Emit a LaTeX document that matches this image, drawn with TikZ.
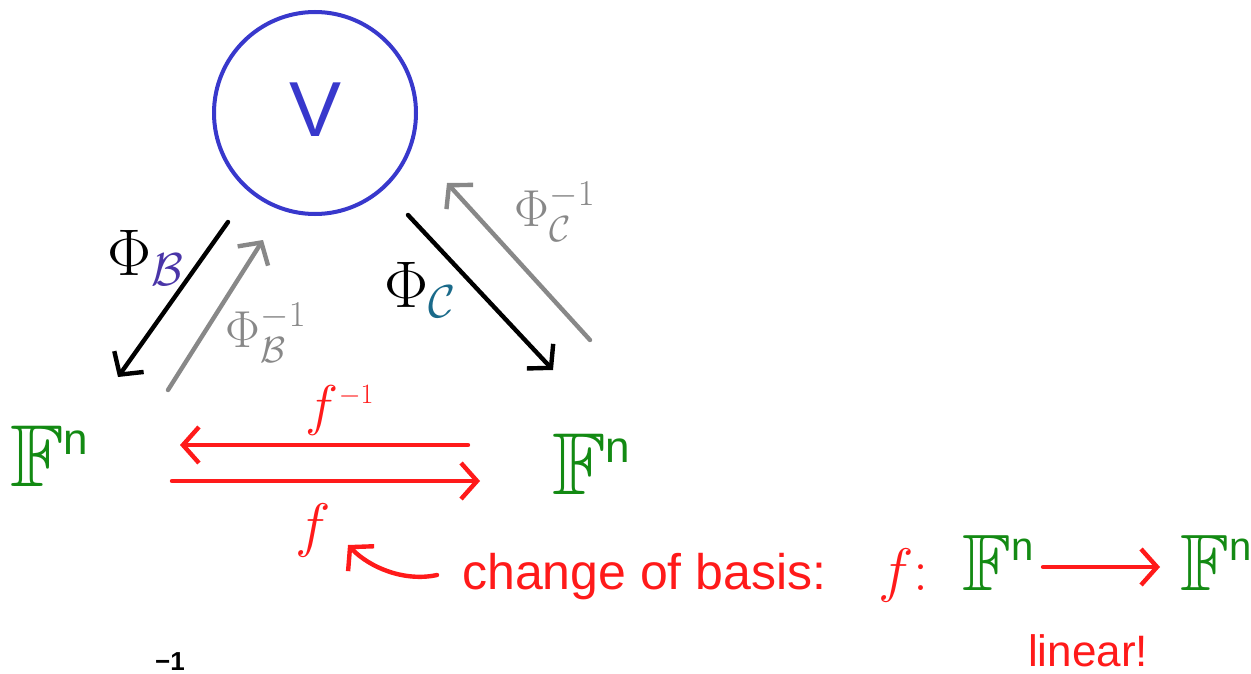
\RequirePackage{fix-cm}
\documentclass[tikz,border=0pt]{standalone}
\usepackage{amssymb}
\usepackage{fontspec}
\setmainfont{Liberation Sans}
\usetikzlibrary{arrows.meta}
\definecolor{vblue}{HTML}{3838CC}
\definecolor{fgreen}{HTML}{138A13}
\definecolor{fred}{HTML}{FF1A1A}
\definecolor{agray}{HTML}{888888}
\definecolor{bpurple}{HTML}{4A35A8}
\definecolor{cteal}{HTML}{1A6A8A}
\tikzset{
  fs/.style={font=\fontsize{#1}{#1}\selectfont},
  arr/.style={line width=4.4pt, line cap=round, -{Straight Barb[length=16pt,width=36pt,line width=4.4pt]}},
  blk/.style={arr, black},
  gry/.style={arr, agray},
  rd/.style={arr, fred},
  lab/.style={inner sep=0pt},
  fn/.style={lab, text=fgreen, fs=88},
}
\newcommand{\Fn}{$\mathbb{F}^{\scriptscriptstyle\mathrm{n}}$}
\begin{document}
\begin{tikzpicture}[x=1pt,y=-1pt]
\useasboundingbox[fill=white] (0,0) rectangle (1251,674);

% vector space V
\node[circle, draw=vblue, line width=4pt, minimum size=202pt, inner sep=0pt] (V) at (315,113) {};
\node[lab, text=vblue, fs=78] (Vt) at (316,110) {V};

% coordinate spaces
\node[fn, anchor=base west] (Fl) at (10,486) {\Fn};
\node[fn, anchor=base west] (Fr) at (552,494) {\Fn};

% arrow endpoints
\coordinate (b1) at (228,222);
\coordinate (b2) at (118,377);
\coordinate (g1) at (168,390);
\coordinate (g2) at (263,240);
\coordinate (c1) at (408,215);
\coordinate (c2) at (553,370);
\coordinate (h1) at (590,340);
\coordinate (h2) at (447,183);
\coordinate (r1) at (468,445);
\coordinate (r2) at (180,445);
\coordinate (s1) at (172,481);
\coordinate (s2) at (480,481);

\draw[blk] (b1) -- (b2);
\draw[gry] (g1) -- (g2);
\draw[blk] (c1) -- (c2);
\draw[gry] (h1) -- (h2);
\draw[rd] (r1) -- (r2);
\draw[rd] (s1) -- (s2);

% labels of the coordinate maps
\node[lab, fs=66] (PB) at (146,258) {$\Phi_{\color{bpurple}\mathcal{B}}$};
\node[lab, fs=52, text=agray] (PBi) at (266,333) {$\Phi_{\mathcal{B}}^{-1}$};
\node[lab, fs=66] (PC) at (420,290) {$\Phi_{\color{cteal}\mathcal{C}}$};
\node[lab, fs=52, text=agray] (PCi) at (555,212) {$\Phi_{\mathcal{C}}^{-1}$};

% f labels
\node[lab, fs=56, text=fred] (finv) at (340,410) {$f^{\scriptscriptstyle -1}$};
\node[lab, fs=60, text=fred] (f) at (313,530) {$f$};

% explanation
\node[lab, fs=50, text=fred, anchor=base west] (cob) at (462,589) {change of basis:};
\coordinate (k1) at (437,575);
\coordinate (k2) at (348,545);
\draw[rd] (k1) .. controls (405,582) and (370,568) .. (k2);

\node[lab, fs=60, text=fred, anchor=base west] (f2) at (878,590) {$f\colon$};
\node[fn, fs=80, anchor=base west] (F3) at (962,590) {\Fn};
\coordinate (a1) at (1043,567);
\coordinate (a2) at (1160,567);
\draw[rd] (a1) -- (a2);
\node[fn, fs=80, anchor=base west] (F4) at (1180,590) {\Fn};
\node[lab, fs=44, text=fred, anchor=base west] (lin) at (1028,666) {linear!};

% fragment at the bottom edge
\node[lab, fs=26, anchor=base west] (frag) at (155,670) {\textbf{\textminus1}};
\end{tikzpicture}
\end{document}
